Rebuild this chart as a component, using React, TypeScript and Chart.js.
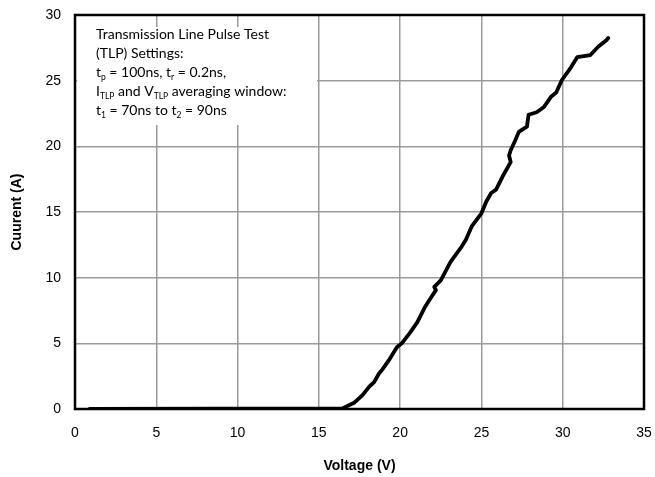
import { useEffect, useRef } from "react";
import { Chart, registerables } from "chart.js";

Chart.register(...registerables);

// Main TLP I-V curve (Voltage in V, Current in A)
const voltage = [
  0.9, 16.45, 17.2, 17.7, 18.1, 18.4, 18.7, 18.9, 19.3, 19.8, 20.1, 20.6, 21.05, 21.5, 21.8,
  22.2, 22.1, 22.5, 23.1, 23.75, 24.05, 24.4, 24.7, 25.0, 25.3, 25.6, 25.9, 26.3, 26.8, 26.7,
  26.8, 27.1, 27.3, 27.8, 27.9, 28.4, 28.85, 29.3, 29.6, 29.95, 30.5, 30.9, 31.7, 32.2, 32.7, 32.8,
];
const current = [
  0, 0.05, 0.5, 1.07, 1.7, 2.05, 2.7, 3.0, 3.7, 4.7, 5.0, 5.8, 6.6, 7.7, 8.3,
  9.05, 9.3, 9.8, 11.2, 12.3, 12.9, 13.9, 14.4, 14.9, 15.8, 16.45, 16.7, 17.7, 18.8, 19.3,
  19.7, 20.5, 21.1, 21.5, 22.4, 22.6, 23.0, 23.8, 24.1, 25.05, 26.0, 26.8, 26.95, 27.6, 28.1, 28.25,
];

// Thin baseline segment at I = 0
const baseVoltage = [16.45, 18.7];
const baseCurrent = [0, 0];

const xMin = 0;
const xMax = 35;
const xStep = 5;
const yMin = 0;
const yMax = 30;
const yStep = 5;

const xTitle = "Voltage (V)";
const yTitle = "Cuurent (A)";

type Seg = { t: string; sub?: boolean };
const noteLines: Seg[][] = [
  [{ t: "Transmission Line Pulse Test" }],
  [{ t: "(TLP) Settings:" }],
  [{ t: "t" }, { t: "p", sub: true }, { t: " = 100ns, t" }, { t: "r", sub: true }, { t: " = 0.2ns," }],
  [{ t: "I" }, { t: "TLP", sub: true }, { t: " and V" }, { t: "TLP", sub: true }, { t: " averaging window:" }],
  [{ t: "t" }, { t: "1", sub: true }, { t: " = 70ns to t" }, { t: "2", sub: true }, { t: " = 90ns" }],
];

const NOTE_FONT = "Lato, 'Noto Sans', sans-serif";

const framePlugin = {
  id: "frameAndNote",
  beforeDatasetsDraw(chart: any) {
    const { ctx, chartArea } = chart;
    ctx.save();
    const bx = chartArea.left + 2;
    const by = chartArea.top + 12;
    ctx.fillStyle = "#ffffff";
    ctx.fillRect(bx, by, 240, 98);
    ctx.fillStyle = "#000000";
    ctx.textBaseline = "alphabetic";
    let y = chartArea.top + 24;
    for (const line of noteLines) {
      let x = chartArea.left + 21;
      for (const seg of line) {
        if (seg.sub) {
          ctx.font = `8.5px ${NOTE_FONT}`;
          ctx.fillText(seg.t, x, y + 3);
        } else {
          ctx.font = `14px ${NOTE_FONT}`;
          ctx.fillText(seg.t, x, y);
        }
        x += ctx.measureText(seg.t).width;
      }
      y += 19;
    }
    ctx.restore();
  },
  afterDatasetsDraw(chart: any) {
    const { ctx, chartArea } = chart;
    ctx.save();
    ctx.strokeStyle = "#000000";
    ctx.lineWidth = 2.5;
    ctx.strokeRect(
      chartArea.left,
      chartArea.top,
      chartArea.right - chartArea.left,
      chartArea.bottom - chartArea.top
    );
    ctx.restore();
  },
};

export default function App() {
  const ref = useRef<HTMLCanvasElement | null>(null);

  useEffect(() => {
    document.body.style.margin = "0";
    const canvas = ref.current;
    if (!canvas) return;
    const mainData = voltage.map((v, i) => ({ x: v, y: current[i] }));
    const baseData = baseVoltage.map((v, i) => ({ x: v, y: baseCurrent[i] }));
    const tickFont = { family: "'Liberation Sans', Arial, sans-serif", size: 14 };
    const titleFont = { family: "'Liberation Sans', Arial, sans-serif", size: 14, weight: "bold" as const };
    const chart = new Chart(canvas, {
      type: "scatter",
      data: {
        datasets: [
          {
            data: baseData,
            showLine: true,
            borderColor: "#000000",
            borderWidth: 1.5,
            pointRadius: 0,
            tension: 0,
          },
          {
            data: mainData,
            showLine: true,
            borderColor: "#000000",
            borderWidth: 3.8,
            pointRadius: 0,
            tension: 0,
            borderJoinStyle: "round",
            borderCapStyle: "round",
          },
        ],
      },
      options: {
        animation: false,
        responsive: false,
        maintainAspectRatio: false,
        layout: { padding: { left: 0, right: 11, top: 15, bottom: 0 } },
        plugins: {
          legend: { display: false },
          tooltip: { enabled: false },
        },
        scales: {
          x: {
            type: "linear",
            min: xMin,
            max: xMax,
            ticks: { stepSize: xStep, font: tickFont, color: "#000000", padding: 16, maxRotation: 0 },
            grid: { color: "#9a9a9a", lineWidth: 1.5, drawTicks: false },
            border: { display: false },
            title: {
              display: true,
              text: xTitle,
              font: titleFont,
              color: "#000000",
              padding: { top: 0, bottom: 2 },
            },
            afterFit: (s: any) => {
              s.height = 68;
              s.paddingLeft = 0;
              s.paddingRight = 0;
            },
          },
          y: {
            type: "linear",
            min: yMin,
            max: yMax,
            ticks: { stepSize: yStep, font: tickFont, color: "#000000", padding: 14 },
            grid: { color: "#9a9a9a", lineWidth: 1.5, drawTicks: false },
            border: { display: false },
            title: {
              display: true,
              text: yTitle,
              font: titleFont,
              color: "#000000",
              padding: { top: 9, bottom: 0 },
            },
            afterFit: (s: any) => {
              s.width = 75;
              s.paddingTop = 0;
              s.paddingBottom = 0;
            },
          },
        },
      },
      plugins: [framePlugin],
    });
    return () => chart.destroy();
  }, []);

  return (
    <div style={{ position: "absolute", left: 0, top: 0, width: 655, height: 477 }}>
      <canvas ref={ref} width={655} height={477} style={{ display: "block" }} />
    </div>
  );
}
